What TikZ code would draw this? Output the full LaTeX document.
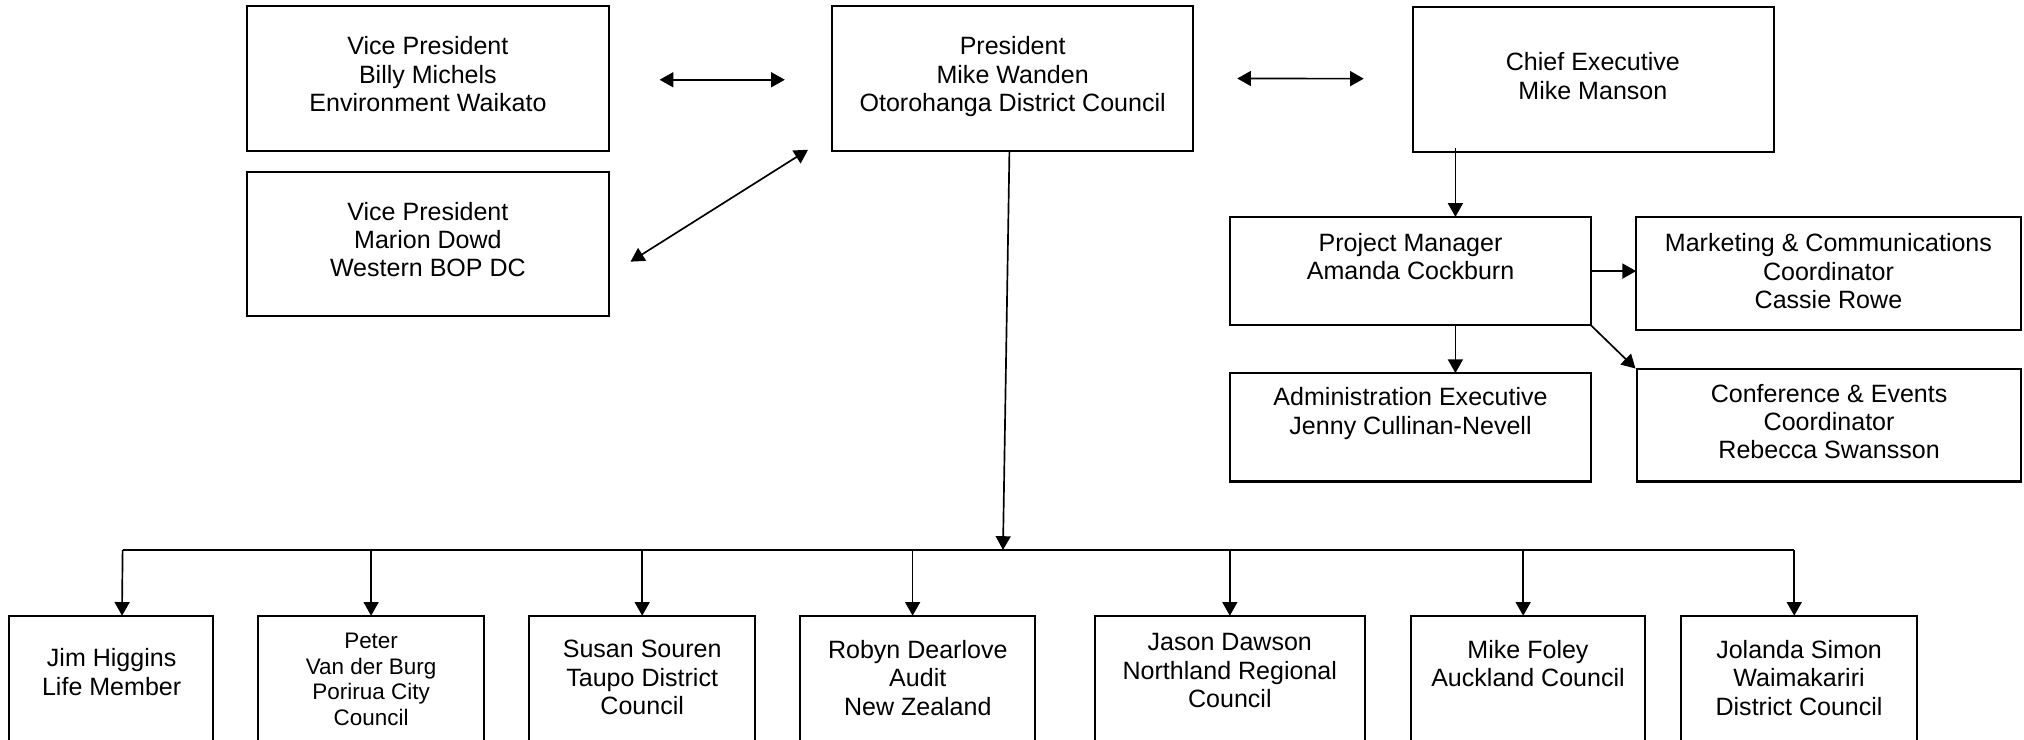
\documentclass[tikz,border=0pt]{standalone}
\usepackage{fontspec}
\setmainfont{Liberation Sans}
\usetikzlibrary{arrows.meta,calc}
\newcommand\mkbox[5]{%
  \pgfmathsetmacro\mkbw{(#4-#2)*0.5}%
  \pgfmathsetmacro\mkbh{(#5-#3)*0.5}%
  \node[orgbox, minimum width=\mkbw pt, minimum height=\mkbh pt] (#1) at ({(#2+#4)/2},{(#3+#5)/2}) {};}
\tikzset{
  orgbox/.style={draw, line width=0.8pt, inner sep=0pt, outer sep=0pt},
  txt/.style={align=center, inner sep=0pt, anchor=north, font=\fontsize{9.7}{11}\selectfont},
  smalltxt/.style={txt, font=\fontsize{8.7}{9.9}\selectfont},
  tip/.tip={Triangle[length=5.3pt,width=5.8pt]},
  arr/.style={line width=0.65pt, -tip},
  darr/.style={line width=0.65pt, tip-tip},
  busline/.style={line width=0.7pt}
}
\begin{document}
\begin{tikzpicture}[x=0.5pt,y=-0.5pt]
\clip (0,0) rectangle (1568,573);
\fill[white] (0,0) rectangle (1568,573);
% boxes
\mkbox{vp1}{191.5}{4.6}{471.5}{117}
\mkbox{vp2}{191.5}{133}{471.5}{245}
\mkbox{pres}{644.5}{4.6}{924.5}{117}
\mkbox{ce}{1094.5}{5.7}{1374}{118}
\mkbox{pm}{953}{168}{1232.5}{252}
\mkbox{mkt}{1267.5}{168}{1565.5}{255.6}
\mkbox{adm}{953}{289}{1232.5}{373}
\mkbox{conf}{1268}{286}{1566}{373}
\mkbox{jim}{7}{477}{165}{620}
\mkbox{peter}{200}{477}{375}{620}
\mkbox{susan}{410}{477}{585}{620}
\mkbox{robyn}{620}{477}{802}{620}
\mkbox{jason}{848}{477}{1057.5}{620}
\mkbox{mike}{1093}{477}{1274.5}{620}
\mkbox{jolanda}{1302.5}{477}{1485}{620}
% texts
\node[txt] (vp1t) at (331.5,28) {Vice President\\Billy Michels\\Environment Waikato};
\node[txt] (vp2t) at (331.5,156) {Vice President\\Marion Dowd\\Western BOP DC};
\node[txt] (prest) at (784.5,28) {President\\Mike Wanden\\Otorohanga District Council};
\node[txt] (cet) at (1234,40.5) {Chief Executive\\Mike Manson};
\node[txt] (pmt) at (1092.75,180) {Project Manager\\Amanda Cockburn};
\node[txt] (mktt) at (1416.5,180.5) {Marketing \& Communications\\Coordinator\\Cassie Rowe};
\node[txt] (admt) at (1092.75,300) {Administration Executive\\Jenny Cullinan-Nevell};
\node[txt] (conft) at (1417,297) {Conference \& Events\\Coordinator\\Rebecca Swansson};
\node[txt] (jimt) at (86.5,502) {Jim Higgins\\Life Member};
\node[smalltxt] (petert) at (287.5,490) {Peter\\Van der Burg\\Porirua City\\Council};
\node[txt] (susant) at (497.5,495.6) {Susan Souren\\Taupo District\\Council};
\node[txt] (robynt) at (711,495.6) {Robyn Dearlove\\Audit\\New Zealand};
\node[txt] (jasont) at (952.75,490.4) {Jason Dawson\\Northland Regional\\Council};
\node[txt] (miket) at (1183.75,495.6) {Mike Foley\\Auckland Council};
\node[txt] (jolandat) at (1393.75,495.6) {Jolanda Simon\\Waimakariri\\District Council};
% top connectors
\draw[darr] ($(vp1.east)+(39.5,1)$) -- ($(pres.west)+(-36.5,1)$);
\draw[darr] ($(pres.east)+(34,0)$) -- ($(ce.west)+(-38,-0.9)$);
\draw[darr] ($(vp2.east)+(17,13.7)$) -- ($(pres.south west)+(-18.5,-1)$);
\draw[arr] ($(ce.south west)+(33,-3)$) coordinate (ceo) -- (ceo |- pm.north);
\draw[arr] (pm.east) -- (pm.east -| mkt.west);
\draw[arr] ($(pm.south west)+(174.5,0)$) coordinate (pmo) -- (pmo |- adm.north);
\draw[arr] (pm.south east) -- ($(conf.north west)+(-1,-0.5)$);
% bus
\coordinate (busl) at (95,426);
\coordinate (busr) at (1390,426);
\coordinate (busc) at (777,426);
\draw[arr] ($(pres.south)+(-2.5,0)$) -- (busc);
\draw[busline] (busl) -- (busr);
\draw[arr] ($(jim.north)+(8.5,0)$) coordinate (d1) (busl) -- (d1);
\draw[arr] (peter.north |- busl) -- (peter.north);
\draw[arr] (susan.north |- busl) -- (susan.north);
\draw[arr] ($(robyn.north)+(-4,0)$) coordinate (d4) (d4 |- busl) -- (d4);
\draw[arr] (jason.north |- busl) -- (jason.north);
\draw[arr] ($(mike.north)+(-3.75,0)$) coordinate (d6) (d6 |- busl) -- (d6);
\draw[arr] ($(jolanda.north)+(-3.75,0)$) coordinate (d7) (d7 |- busl) -- (d7);
\end{tikzpicture}
\end{document}
